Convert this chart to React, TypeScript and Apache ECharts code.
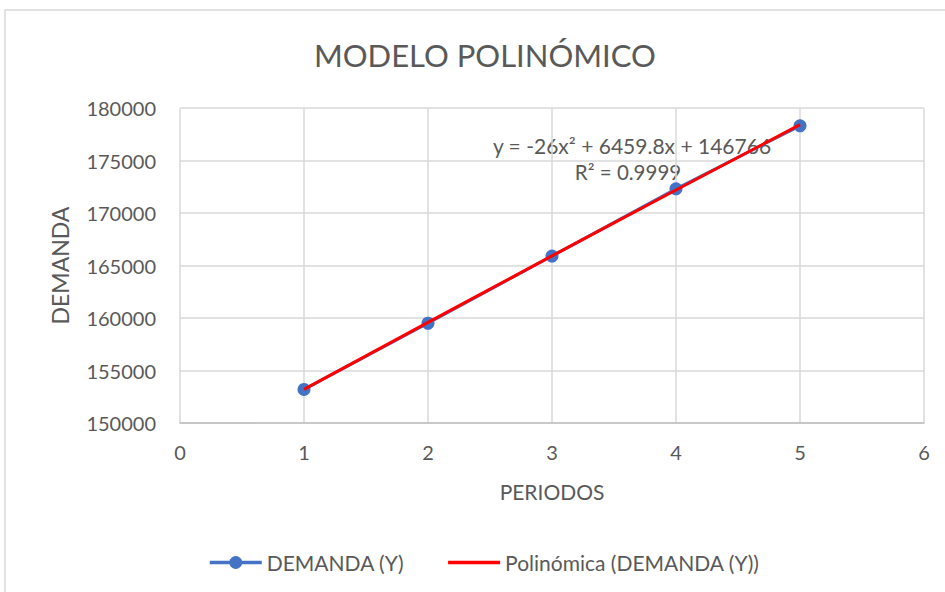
import React, { useEffect, useRef } from "react";
import * as echarts from "echarts";

const periods = [1, 2, 3, 4, 5];
const demand = [153200, 159500, 165900, 172300, 178300];
const trendValues = [153200, 159582, 165911, 172189, 178415];
const yTicks = [150000, 155000, 160000, 165000, 170000, 175000, 180000];
const xTicks = [0, 1, 2, 3, 4, 5, 6];
const titleText = "MODELO POLINÓMICO";
const equationText = "y = -26x² + 6459.8x + 146766";
const r2Text = "R² = 0.9999";
const seriesNames = ["DEMANDA (Y)", "Polinómica (DEMANDA (Y))"];

const FONT = "Lato, 'Noto Sans', sans-serif";
const GRAY = "#595959";

export default function App() {
  const ref = useRef<HTMLDivElement>(null);
  useEffect(() => {
    document.body.style.margin = "0";
    if (!ref.current) return;
    const chart = echarts.init(ref.current, undefined, { renderer: "svg" });
    chart.setOption({
      animation: false,
      backgroundColor: "#ffffff",
      textStyle: { fontFamily: FONT },
      title: {
        text: titleText,
        left: 309,
        top: 34,
        textStyle: { fontFamily: FONT, fontSize: 31, fontWeight: "normal", color: GRAY },
      },
      grid: { left: 180, right: 21, top: 108, bottom: 169 },
      xAxis: {
        type: "value",
        min: xTicks[0],
        max: xTicks[xTicks.length - 1],
        interval: 1,
        name: "PERIODOS",
        nameLocation: "middle",
        nameGap: 58,
        nameTextStyle: { fontFamily: FONT, fontSize: 21, color: GRAY },
        axisLine: { show: true, lineStyle: { color: "#bfbfbf", width: 1.5 } },
        axisTick: { show: false },
        axisLabel: { fontFamily: FONT, fontSize: 20, color: GRAY, margin: 19 },
        splitLine: { show: true, lineStyle: { color: "#d9d9d9", width: 1.5 } },
      },
      yAxis: {
        type: "value",
        min: yTicks[0],
        max: yTicks[yTicks.length - 1],
        interval: 5000,
        name: "DEMANDA",
        nameLocation: "middle",
        nameGap: 109,
        nameTextStyle: { fontFamily: FONT, fontSize: 23, color: GRAY },
        axisLine: { show: false },
        axisTick: { show: false },
        axisLabel: {
          fontFamily: FONT,
          fontSize: 20,
          color: GRAY,
          margin: 24,
          formatter: (v: number) => String(v),
        },
        splitLine: { show: true, lineStyle: { color: "#d9d9d9", width: 1.5 } },
      },
      legend: {
        bottom: 14,
        left: 203,
        itemWidth: 52,
        itemHeight: 16,
        itemGap: 42,
        lineStyle: { width: 3.5 },
        textStyle: { fontFamily: FONT, fontSize: 21, color: GRAY },
        data: [
          { name: seriesNames[0] },
          { name: seriesNames[1], itemStyle: { opacity: 0 } },
        ],
      },
      series: [
        {
          name: seriesNames[0],
          type: "line",
          data: periods.map((p, i) => [p, demand[i]]),
          symbol: "circle",
          symbolSize: 13,
          itemStyle: { color: "#4472C4" },
          lineStyle: { color: "#4472C4", width: 3 },
          z: 2,
        },
        {
          name: seriesNames[1],
          type: "line",
          data: periods.map((p, i) => [p, trendValues[i]]),
          symbol: "none",
          smooth: true,
          itemStyle: { color: "#FF0000" },
          lineStyle: { color: "#FF0000", width: 3 },
          z: 3,
        },
      ],
      graphic: [
        {
          type: "rect",
          shape: { x: 5, y: 10, width: 960, height: 600 },
          style: { fill: "none", stroke: "#d9d9d9", lineWidth: 1.5 },
          z: -1,
        },
        {
          type: "text",
          x: 632,
          y: 145,
          style: {
            text: equationText,
            fontFamily: FONT,
            fontSize: 21,
            fill: GRAY,
            textAlign: "center",
            textVerticalAlign: "middle",
          },
        },
        {
          type: "text",
          x: 628,
          y: 172,
          style: {
            text: r2Text,
            fontFamily: FONT,
            fontSize: 20.5,
            fill: GRAY,
            textAlign: "center",
            textVerticalAlign: "middle",
          },
        },
      ],
    });
    return () => chart.dispose();
  }, []);
  return (
    <div
      ref={ref}
      style={{ position: "absolute", left: 0, top: 0, width: 945, height: 592 }}
    />
  );
}
